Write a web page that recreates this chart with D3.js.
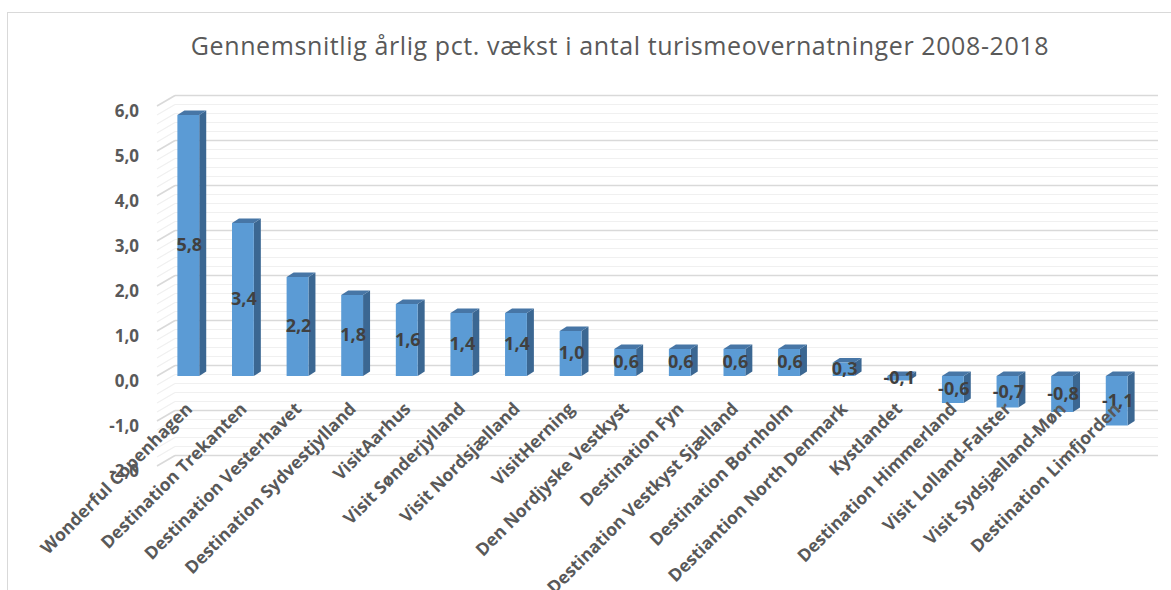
<!DOCTYPE html>
<html>
<head>
<meta charset="utf-8">
<script src="https://cdn.jsdelivr.net/npm/d3@7"></script>
<style>
  body { margin: 0; background: #fff; }
  svg { display: block; }
</style>
</head>
<body>
<svg id="chart"></svg>
<script>
// data
const categories = ["Wonderful Copenhagen", "Destination Trekanten", "Destination Vesterhavet",
  "Destination Sydvestjylland", "VisitAarhus", "Visit Sønderjylland", "Visit Nordsjælland",
  "VisitHerning", "Den Nordjyske Vestkyst", "Destination Fyn", "Destination Vestkyst Sjælland",
  "Destination Bornholm", "Destiantion North Denmark", "Kystlandet", "Destination Himmerland",
  "Visit Lolland-Falster", "Visit Sydsjælland-Møn", "Destination Limfjorden"]
const values = [5.8, 3.4, 2.2, 1.8, 1.6, 1.4, 1.4, 1.0, 0.6, 0.6, 0.6, 0.6, 0.3, -0.1, -0.6, -0.7, -0.8, -1.1]
const yTicks = [6, 5, 4, 3, 2, 1, 0, -1, -2]
const title = "Gennemsnitlig årlig pct. vækst i antal turismeovernatninger 2008-2018"

const width = 1171, height = 590
const svg = d3.select("#chart").attr("width", width).attr("height", height)

const fmt = v => d3.format(".1f")(v).replace(".", ",").replace("−", "-")

// chart area border
svg.append("rect")
  .attr("x", 7.5).attr("y", 12.5)
  .attr("width", 1300).attr("height", 700)
  .attr("fill", "none").attr("stroke", "#d9d9d9")

svg.append("text")
  .attr("x", 620).attr("y", 55)
  .attr("text-anchor", "middle")
  .style("font-family", "Open Sans")
  .style("font-size", "25px")
  .style("letter-spacing", "0.6px")
  .style("fill", "#595959")
  .text(title)

// front plane scales, back wall is shifted by depth
const x = d3.scaleBand().domain(categories).range([161, 1144]).paddingInner(0.6).paddingOuter(0.3)
const y = d3.scaleLinear().domain([-2, 6]).range([466, 106])
const depth = { dx: 18, dy: -10.5 }
const barDepth = { dx: 7, dy: -4.5 }
const wallLeft = 157, wallRight = 1140

// gridlines: minor every 0.2, major every 1
const minor = d3.range(-2, 6.001, 0.2).map(v => +v.toFixed(1))
const grid = svg.append("g")
minor.forEach(function (v) {
  const major = Math.abs(v - Math.round(v)) < 1e-6
  const yb = y(v) + depth.dy
  grid.append("line")
    .attr("x1", wallLeft + depth.dx).attr("x2", wallRight + depth.dx)
    .attr("y1", yb).attr("y2", yb)
    .attr("stroke", major ? "#d9d9d9" : "#f0f0f0")
    .attr("stroke-width", major ? 1.6 : 1.2)
  grid.append("line")
    .attr("x1", wallLeft).attr("x2", wallLeft + depth.dx)
    .attr("y1", y(v)).attr("y2", yb)
    .attr("stroke", major ? "#d9d9d9" : "#f0f0f0")
    .attr("stroke-width", major ? 1.6 : 1.2)
})

// y axis labels
svg.append("g").selectAll("text")
  .data(yTicks)
  .join("text")
  .attr("x", 139)
  .attr("y", d => y(d) + 6)
  .attr("text-anchor", "end")
  .attr("dominant-baseline", "middle")
  .style("font-family", "Open Sans")
  .style("font-weight", "bold")
  .style("font-size", "17px")
  .style("fill", "#595959")
  .text(fmt)

// 3d bars
const bars = svg.append("g").selectAll("g")
  .data(categories.map((c, i) => ({ c: c, v: values[i] })))
  .join("g")

bars.each(function (d) {
  const g = d3.select(this)
  const x0 = x(d.c), x1 = x0 + x.bandwidth()
  const yt = y(Math.max(d.v, 0)), yb = y(Math.min(d.v, 0))
  const ddx = barDepth.dx, ddy = barDepth.dy
  // side face
  g.append("path")
    .attr("d", `M${x1},${yt}L${x1 + ddx},${yt + ddy}L${x1 + ddx},${yb + ddy}L${x1},${yb}Z`)
    .attr("fill", "#3b6792")
  // top face
  g.append("path")
    .attr("d", `M${x0},${yt}L${x0 + ddx},${yt + ddy}L${x1 + ddx},${yt + ddy}L${x1},${yt}Z`)
    .attr("fill", "#4776a6")
  // front face
  g.append("rect")
    .attr("x", x0).attr("y", yt)
    .attr("width", x.bandwidth()).attr("height", Math.max(yb - yt, 0.5))
    .attr("fill", "#5b9bd5")
})

// value labels in the middle of each bar
svg.append("g").selectAll("text")
  .data(categories.map((c, i) => ({ c: c, v: values[i] })))
  .join("text")
  .attr("x", d => x(d.c) + x.bandwidth() / 2 + 1)
  .attr("y", d => (y(d.v) + y(0)) / 2 + 1)
  .attr("text-anchor", "middle")
  .attr("dominant-baseline", "middle")
  .style("font-family", "Open Sans")
  .style("font-weight", "bold")
  .style("font-size", "18px")
  .style("fill", "#404040")
  .text(d => fmt(d.v))

// category labels, rotated
svg.append("g").selectAll("text")
  .data(categories)
  .join("text")
  .attr("transform", d => `translate(${x(d) + x.bandwidth() / 2 + 5},410) rotate(-45)`)
  .attr("text-anchor", "end")
  .style("font-family", "Open Sans")
  .style("font-weight", "bold")
  .style("font-size", "17.5px")
  .style("fill", "#595959")
  .text(d => d)
</script>
</body>
</html>
